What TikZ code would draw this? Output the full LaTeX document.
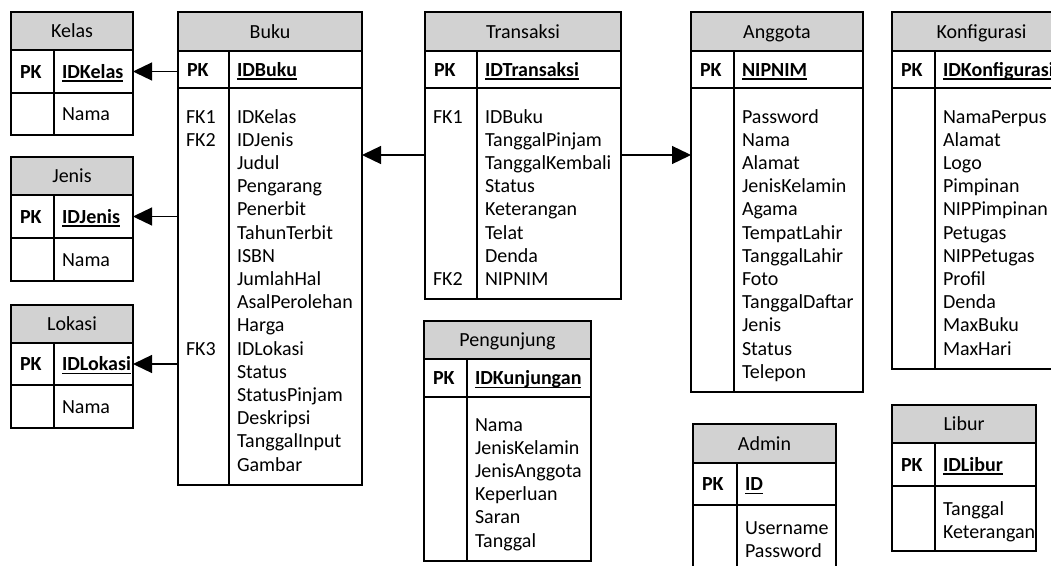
\documentclass[tikz,border=0pt]{standalone}
\usepackage{fontspec}
\setmainfont{Carlito}
\usetikzlibrary{arrows.meta,calc}
\definecolor{hdrgray}{RGB}{210,210,210}
\tikzset{
  tbl/.style={draw, line width=1.3pt, inner sep=0pt, outer sep=0pt, anchor=north west},
  hdr/.style={tbl, fill=hdrgray},
  rule/.style={line width=1.3pt},
  uline/.style={line width=1.2pt},
  txt/.style={inner sep=0pt, outer sep=0pt, font=\fontsize{20}{23.2}\selectfont},
  fk/.style={line width=1.3pt, -{Triangle[length=19pt,width=18pt]}},
}
\newcommand\erdbox[8]{%
  \node[tbl, minimum width={#4pt-#2pt}, minimum height={#7pt-#3pt}] (#1) at (#2,#3) {};
  \node[hdr, minimum width={#4pt-#2pt}, minimum height={#5pt-#3pt}] (#1-h) at (#2,#3) {};
  \node[tbl, minimum width={#4pt-#2pt}, minimum height={#6pt-#5pt}] (#1-pk) at (#2,#5) {};
  \coordinate (#1-d) at (#8,#5);
  \coordinate (#1-db) at (#8,#7);
  \draw[rule] (#1-d) -- (#1-db);
}
\newcommand\erdlabel[3]{%
  \node[txt, anchor=base] (#1-t) at ($(#1-h.center)+(0,6.5)$) {#2};
  \node[txt, anchor=base west] (#1-pkl) at ($(#1-pk.west)+(9,6.5)$) {\textbf{PK}};
  \node[txt, anchor=base west] (#1-pkf) at ($(#1-pk.west -| #1-d)+(8,6.5)$) {\textbf{#3}};
  \draw[uline] ($(#1-pkf.base west)+(0,3)$) -- ($(#1-pkf.base east)+(0,3)$);
}
\newcommand\erdfields[4]{%
  \foreach \fname [count=\i] in {#4} {
    \pgfmathsetmacro\yy{#3+(\i-1)*23.2}
    \node[txt, anchor=base west] (#1-f\i) at (#2,\yy) {\fname};
  }
}
\begin{document}
\begin{tikzpicture}[x=1pt,y=-1pt]
\useasboundingbox (0,0) rectangle (1051,565);
\clip (0,0) rectangle (1051,565);

% Kelas
\erdbox{kelas}{11}{12}{133}{50}{93}{135}{54}
\erdlabel{kelas}{Kelas}{IDKelas}
\erdfields{kelas}{62}{120.5}{Nama}
% Jenis
\erdbox{jenis}{11}{157}{133}{195}{238}{281}{54}
\erdlabel{jenis}{Jenis}{IDJenis}
\erdfields{jenis}{62}{266}{Nama}
% Lokasi
\erdbox{lokasi}{11}{305}{133}{343}{385}{428}{54}
\erdlabel{lokasi}{Lokasi}{IDLokasi}
\erdfields{lokasi}{62}{413}{Nama}
% Buku
\erdbox{buku}{178}{12}{362}{51}{88}{485}{229}
\erdlabel{buku}{Buku}{IDBuku}
\erdfields{buku}{237}{123}{IDKelas,IDJenis,Judul,Pengarang,Penerbit,TahunTerbit,ISBN,JumlahHal,AsalPerolehan,Harga,IDLokasi,Status,StatusPinjam,Deskripsi,TanggalInput,Gambar}
\node[txt, anchor=base west] (buku-k1) at (186,123) {FK1};
\node[txt, anchor=base west] (buku-k2) at (186,146.2) {FK2};
\node[txt, anchor=base west] (buku-k3) at (186,355) {FK3};
% Transaksi
\erdbox{transaksi}{425}{12}{621}{51}{88}{299}{477}
\erdlabel{transaksi}{Transaksi}{IDTransaksi}
\erdfields{transaksi}{485}{123}{IDBuku,TanggalPinjam,TanggalKembali,Status,Keterangan,Telat,Denda,NIPNIM}
\node[txt, anchor=base west] (transaksi-k1) at (433,123) {FK1};
\node[txt, anchor=base west] (transaksi-k2) at (433,285.4) {FK2};
% Anggota
\erdbox{anggota}{691}{12}{863}{51}{88}{392}{734}
\erdlabel{anggota}{Anggota}{NIPNIM}
\erdfields{anggota}{742}{123}{Password,Nama,Alamat,JenisKelamin,Agama,TempatLahir,TanggalLahir,Foto,TanggalDaftar,Jenis,Status,Telepon}
% Konfigurasi
\erdbox{konfig}{892}{12}{1071}{51}{88}{369}{935}
\erdlabel{konfig}{Konfigurasi}{IDKonfigurasi}
\erdfields{konfig}{943}{123}{NamaPerpus,Alamat,Logo,Pimpinan,NIPPimpinan,Petugas,NIPPetugas,Profil,Denda,MaxBuku,MaxHari}
% Pengunjung
\erdbox{pengunjung}{424}{321}{591}{359}{397}{561}{467}
\erdlabel{pengunjung}{Pengunjung}{IDKunjungan}
\erdfields{pengunjung}{475}{431}{Nama,JenisKelamin,JenisAnggota,Keperluan,Saran,Tanggal}
% Admin
\erdbox{admin}{693}{424}{836}{463}{505}{600}{737}
\erdlabel{admin}{Admin}{ID}
\erdfields{admin}{745}{534}{Username,Password}
% Libur
\erdbox{libur}{892}{405}{1036}{443}{486}{551}{935}
\erdlabel{libur}{Libur}{IDLibur}
\erdfields{libur}{943}{515}{Tanggal,Keterangan}

% Relations
\draw[fk] (buku.west |- kelas-pk.east) -- (kelas-pk.east);
\draw[fk] (buku.west |- jenis-pk.east) -- (jenis-pk.east);
\draw[fk] (buku.west |- lokasi-pk.east) -- (lokasi-pk.east);
\coordinate (rel) at (500,155);
\draw[fk] (transaksi.west |- rel) -- (buku.east |- rel);
\draw[fk] (transaksi.east |- rel) -- (anggota.west |- rel);
\end{tikzpicture}
\end{document}
